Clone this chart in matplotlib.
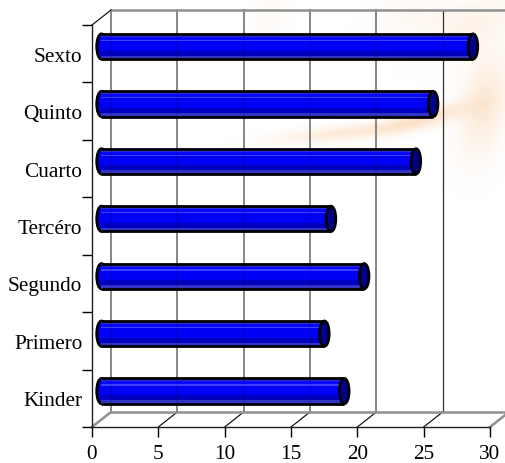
import matplotlib
matplotlib.use('Agg')
import matplotlib.pyplot as plt
import matplotlib.transforms as mtrans
from matplotlib.patches import Ellipse
import numpy as np

cursos = ['Kinder', 'Primero', 'Segundo', 'Tercéro', 'Cuarto', 'Quinto', 'Sexto']
valores = [18.3, 16.8, 19.8, 17.3, 23.7, 25.0, 28.0]
ticks_x = [0, 5, 10, 15, 20, 25, 30]

W, H = 506, 464
plt.rcParams['font.family'] = ['Liberation Serif', 'DejaVu Serif']

fig = plt.figure(figsize=(W / 100, H / 100), dpi=100)

# mancha naranja de fondo
fondo = fig.add_axes([0, 0, 1, 1], zorder=0)
fondo.axis('off')
yy, xx = np.mgrid[0:H, 0:W]
alfa = np.zeros((H, W))
for cx, cy, sx, sy, rot, a in [(345, 133, 65, 7, -0.10, 0.22), (425, 118, 45, 9, -0.25, 0.28),
                              (484, 105, 22, 50, 0.2, 0.22), (470, 30, 50, 22, -0.5, 0.10),
                              (430, 20, 60, 15, -0.2, 0.06), (270, 15, 18, 30, 0.3, 0.04),
                              (400, 10, 30, 10, 0.0, 0.04)]:
    u = (xx - cx) * np.cos(rot) + (yy - cy) * np.sin(rot)
    v = -(xx - cx) * np.sin(rot) + (yy - cy) * np.cos(rot)
    alfa += a * np.exp(-(u / sx) ** 2 - (v / sy) ** 2)
img = np.zeros((H, W, 4))
img[..., 0] = 0.96
img[..., 1] = 0.62
img[..., 2] = 0.30
img[..., 3] = np.clip(alfa, 0, 0.4)
fondo.imshow(img, extent=(0, W, H, 0), aspect='auto')

ax = fig.add_axes([92 / W, (H - 428) / H, 398 / W, 402 / H], zorder=1)
ax.patch.set_alpha(0)
ax.set_xlim(0, 30)
ax.set_ylim(0, 7)
pos = np.arange(7) + 0.5

# desplazamientos de la profundidad 3D, en pixeles
fondo_tr = ax.transData + mtrans.Affine2D().translate(19, 15)
medio_tr = ax.transData + mtrans.Affine2D().translate(9.5, 7.2)
dx = 19 * 30 / 398
dy = 15 * 7 / 402

# rejilla y paredes
for t in ticks_x:
    if t == 30:
        continue
    c = '#858585' if t < 25 else '#303030'
    ax.plot([t, t], [0, 7], color=c, lw=1.4 if t < 25 else 0.9, transform=fondo_tr, clip_on=False, zorder=1)
    if 0 < t:
        ax.plot([t, t + dx], [0, dy], color='k', lw=0.8, clip_on=False, zorder=1)
ax.plot([0, 30], [7, 7], color='#909090', lw=1.8, transform=fondo_tr, clip_on=False, zorder=1)
ax.plot([0, 30], [0, 0], color='#909090', lw=1.8, transform=fondo_tr, clip_on=False, zorder=1)
ax.plot([0, dx], [0, dy], color='#909090', lw=1.8, clip_on=False, zorder=1)
ax.plot([30, 30 + dx], [0, dy], color='#909090', lw=1.8, clip_on=False, zorder=1)
ax.plot([0, dx], [7, 7 + dy], color='k', lw=0.8, clip_on=False, zorder=1)

# barras: franjas para imitar el cilindro
alto = 0.44
franjas = [(-0.50, 0.14, '#3434c4'), (-0.36, 0.20, '#0000c0'), (-0.16, 0.38, '#0000f4'),
           (0.22, 0.05, '#4040ff'), (0.27, 0.11, '#0808ff'), (0.38, 0.12, '#2e2ed0')]
for y, v in zip(pos, valores):
    ax.add_patch(Ellipse((0, y), 0.72, alto, transform=medio_tr, fc='#0000d8', ec='k', lw=2, zorder=3))
    for ini, h, col in franjas:
        ax.barh(y + (ini + h / 2) * alto, v, height=h * alto, color=col, lw=0, transform=medio_tr, zorder=4)
    ax.plot([0, v], [y + alto / 2, y + alto / 2], color='k', lw=2, transform=medio_tr, zorder=5, solid_capstyle='butt')
    ax.plot([0, v], [y - alto / 2, y - alto / 2], color='k', lw=2, transform=medio_tr, zorder=5, solid_capstyle='butt')
    # la rejilla trasera se ve a traves de las barras
    for t in ticks_x[:-1]:
        if t + 0.72 < v:
            ax.plot([t + 0.72, t + 0.72], [y - alto / 2, y + alto / 2], color='k', alpha=0.12, lw=1.2,
                    transform=medio_tr, zorder=5)
    ax.add_patch(Ellipse((v, y), 0.72, alto, transform=medio_tr, fc='#00008c', ec='k', lw=2, zorder=6))

for lado in ['top', 'right']:
    ax.spines[lado].set_visible(False)
for lado in ['left', 'bottom']:
    ax.spines[lado].set_linewidth(1.0)
    ax.spines[lado].set_color('#202020')
ax.set_xticks(ticks_x)
ax.set_yticks(range(8))
ax.set_yticklabels([])
ax.set_yticks(pos, minor=True)
ax.set_yticklabels(cursos, minor=True)
ax.tick_params(axis='y', which='minor', length=0, pad=7, labelsize=15.3)
ax.tick_params(axis='y', which='major', length=7, width=1)
ax.tick_params(axis='x', length=7, width=1, labelsize=15.3, pad=5.5)

fig.savefig('out.png', dpi=100)
